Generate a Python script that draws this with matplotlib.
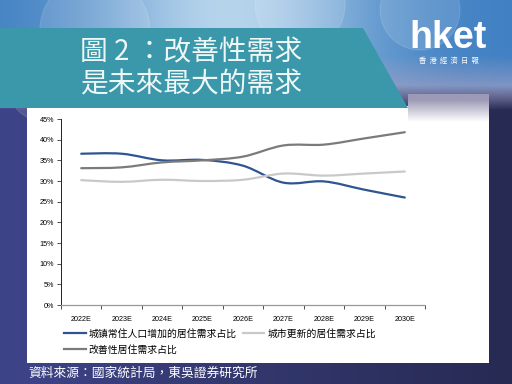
import numpy as np
import matplotlib
matplotlib.use("Agg")
import matplotlib.pyplot as plt
from matplotlib.path import Path
from matplotlib.patches import PathPatch, Polygon, Rectangle, Circle
from matplotlib.lines import Line2D

plt.rcParams['font.family'] = ['Liberation Sans', 'Noto Sans CJK SC', 'DejaVu Sans']

# 数据
years = ['2022E', '2023E', '2024E', '2025E', '2026E', '2027E', '2028E', '2029E', '2030E']
urban_pop = [36.6, 36.6, 35.0, 35.1, 33.7, 29.6, 29.9, 27.9, 26.0]
renewal = [30.2, 29.8, 30.3, 30.0, 30.3, 31.8, 31.3, 31.8, 32.3]
improve = [33.1, 33.3, 34.5, 35.0, 35.9, 38.6, 38.8, 40.3, 41.8]
series_names = ['城镇常住人口增加的居住需求占比', '城市更新的居住需求占比', '改善性居住需求占比']
series_colors = ['#2f5591', '#c9c9c9', '#7b7b7b']
title_lines = ['圖 2 ：改善性需求', '是未來最大的需求']
source = '資料來源：國家統計局，東吳證券研究所'

W, H = 512, 384
fig = plt.figure(figsize=(W / 100, H / 100), dpi=100)

# 背景
bg = fig.add_axes([0, 0, 1, 1])
bg.set_xlim(0, W)
bg.set_ylim(H, 0)
bg.axis('off')

xx = np.linspace(0, 1, W)[None, :, None]
yy = np.linspace(0, 1, H)[:, None, None] * H
left_c = np.array([0x3e, 0x44, 0x88]) / 255
right_c = np.array([0x27, 0x2a, 0x52]) / 255
base = left_c * (1 - xx) + right_c * xx
base = np.broadcast_to(base, (H, W, 3)).copy()
sky_edge = np.array([0x3f, 0x7f, 0xc2]) / 255
sky_mid = np.array([0xb6, 0xd4, 0xec]) / 255
bump = np.exp(-((xx - 0.45) / 0.28) ** 2)
sky = sky_edge * (1 - bump) + sky_mid * bump
haze = np.array([0x9c, 0x9e, 0xc4]) / 255
t = np.clip((yy - 55) / 45, 0, 1)
sky_full = sky * (1 - t) + haze * t
m = np.clip((yy - 85) / 25, 0, 1)
img = sky_full * (1 - m) + base * m
bg.imshow(img, extent=(0, W, H, 0), aspect='auto', zorder=0)

for cx, cy, r in [(95, 30, 55), (300, 5, 45), (420, 10, 40), (40, 90, 30)]:
    bg.add_patch(Circle((cx, cy), r, facecolor='white', alpha=0.12,
                        edgecolor='white', lw=0.8, zorder=1))

# 白色面板
bg.add_patch(Rectangle((27, 106), 462, 257, facecolor='white', edgecolor='none', zorder=2))
grad = np.clip((np.linspace(0, 1, 40) - 0.2) / 0.8, 0, 1)[:, None, None]
gcol = np.array([0x9c, 0x9a, 0xb6]) / 255 * (1 - grad) + np.ones(3) * grad
bg.imshow(np.broadcast_to(gcol, (40, 10, 3)), extent=(408, 489, 122, 94),
          aspect='auto', zorder=2)

# 标题横幅
bg.add_patch(Polygon([(0, 28), (363, 28), (408, 108), (0, 108)], closed=True,
                     facecolor='#3a98aa', edgecolor='none', zorder=3))
bg.text(80, 52, title_lines[0], color='#eef6f6', fontsize=20,
        family=['Noto Sans CJK TC'], weight='light', va='center', ha='left', zorder=4)
bg.text(80, 84, title_lines[1], color='#eef6f6', fontsize=20,
        family=['Noto Sans CJK TC'], weight='light', va='center', ha='left', zorder=4)

# 标志
bg.text(448, 38, 'hket', color='white', fontsize=27, weight='bold',
        family=['Liberation Sans'], ha='center', va='center', zorder=4)
bg.text(449, 61, '香  港  經  濟  日  報', color='white', fontsize=5.2,
        family=['Noto Sans CJK TC'], ha='center', va='center', zorder=4)

# 资料来源
bg.text(28, 373, source, color='white', fontsize=9.2,
        family=['Noto Sans CJK TC'], ha='left', va='center', zorder=4)

# 图表
ax = fig.add_axes([61 / W, 1 - 305 / H, 364 / W, 186 / H])
ax.set_facecolor('none')
x = np.arange(len(years))


def smooth_path(xs, ys):
    pts = np.column_stack([xs, ys])
    n = len(pts)
    verts = [pts[0]]
    codes = [Path.MOVETO]
    for i in range(n - 1):
        p0 = pts[max(i - 1, 0)]
        p1 = pts[i]
        p2 = pts[i + 1]
        p3 = pts[min(i + 2, n - 1)]
        c1 = p1 + (p2 - p0) / 6
        c2 = p2 - (p3 - p1) / 6
        verts += [c1, c2, p2]
        codes += [Path.CURVE4] * 3
    return Path(verts, codes)


for vals, col in zip([urban_pop, renewal, improve], series_colors):
    ax.add_patch(PathPatch(smooth_path(x, np.array(vals) / 100), facecolor='none',
                           edgecolor=col, lw=1.6, capstyle='round'))

ax.set_xlim(-0.5, len(years) - 0.5)
ax.set_ylim(0, 0.45)
ax.set_yticks(np.arange(0, 0.46, 0.05))
ax.set_yticklabels(['%d%%' % round(v * 100) for v in np.arange(0, 0.46, 0.05)])
ax.set_xticks(np.arange(-0.5, len(years), 1))
ax.set_xticklabels([])
ax.set_xticks(x, minor=True)
ax.set_xticklabels(years, minor=True)
ax.tick_params(axis='x', which='major', length=3, width=0.6, color='#333333')
ax.tick_params(axis='x', which='minor', length=0, pad=8, labelsize=5.2)
ax.tick_params(axis='y', length=3, width=0.6, color='#333333', labelsize=5.2, pad=2)
for s in ['top', 'right']:
    ax.spines[s].set_visible(False)
ax.spines['left'].set_color('#222222')
ax.spines['left'].set_linewidth(0.7)
ax.spines['bottom'].set_color('#999999')
ax.spines['bottom'].set_linewidth(0.9)

# 图例顺序: 第一行 城镇/城市更新, 第二行 改善性
order = [0, 2, 1]
handles = [Line2D([], [], color=series_colors[i], lw=1.6) for i in order]
labels = [series_names[i] for i in order]
fig.legend(handles, labels, loc='upper left',
           bbox_to_anchor=(60 / W, 1 - 325 / H), ncol=2, frameon=False,
           handlelength=2.2, handletextpad=0.3,
           columnspacing=0.6, labelspacing=0.55, borderaxespad=0,
           prop={'family': ['Noto Sans CJK SC'], 'size': 7.1})

fig.savefig('out.png', dpi=100)
